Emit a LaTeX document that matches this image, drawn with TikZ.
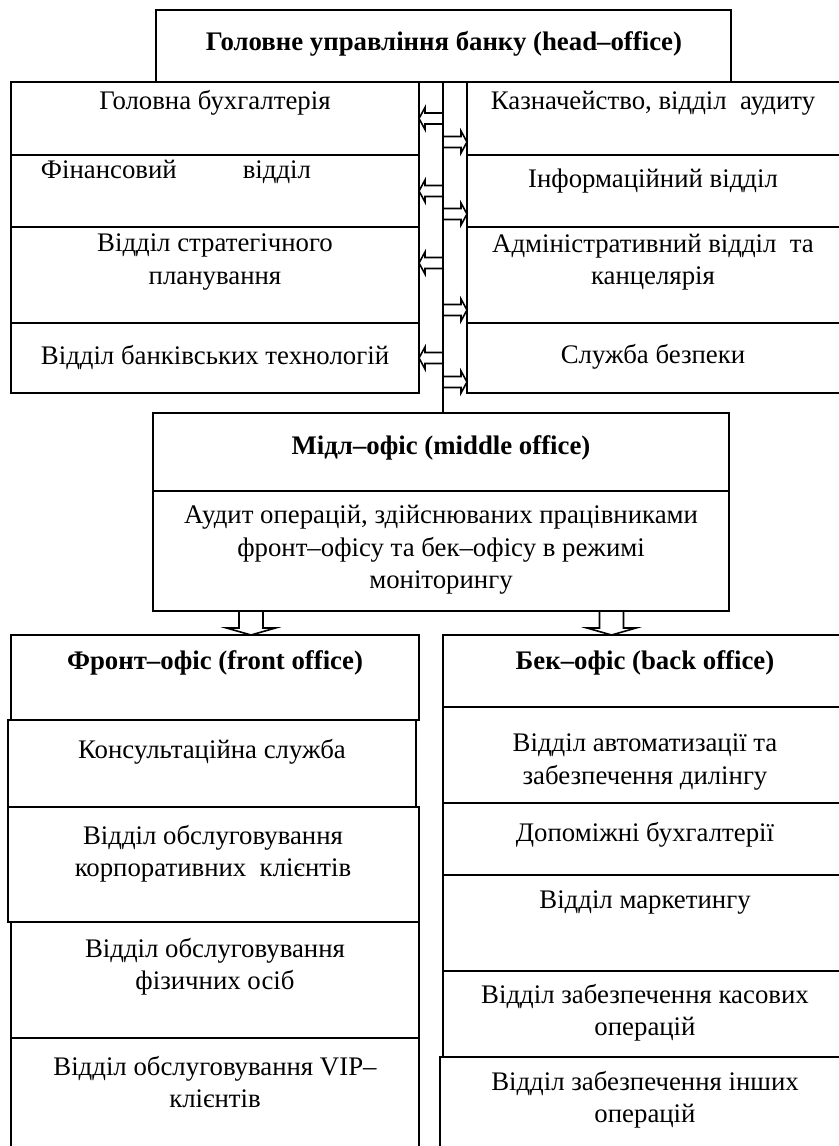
\documentclass[tikz,border=0pt]{standalone}
\usepackage{fontspec}
\setmainfont{Liberation Serif}
\usetikzlibrary{calc,fit}

\tikzset{
  box/.style={draw, line width=0.8pt, inner sep=0pt, outer sep=0pt},
  txt/.style={align=center, inner sep=0pt, font=\fontsize{13.4}{16.2}\selectfont},
  ttl/.style={txt, font=\fontsize{13.4}{16.2}\selectfont\bfseries},
  % block arrow outline: shaft half width / head half width / head length
  blk/.style args={#1/#2/#3}{line width=0.8pt, line join=miter, to path={
    ($(\tikztostart)!#1!90:(\tikztotarget)$)
    -- ($(\tikztotarget)!#3!(\tikztostart)!#1!-90:(\tikztostart)$)
    -- ($(\tikztotarget)!#3!(\tikztostart)!#2!-90:(\tikztostart)$)
    -- (\tikztotarget)
    -- ($(\tikztotarget)!#3!(\tikztostart)!#2!90:(\tikztostart)$)
    -- ($(\tikztotarget)!#3!(\tikztostart)!#1!90:(\tikztostart)$)
    -- ($(\tikztostart)!#1!-90:(\tikztotarget)$)}},
  harr/.style={blk=2.75pt/5.5pt/3pt},
  varr/.style={blk=6pt/12.25pt/3.5pt},
}

\begin{document}
\begin{tikzpicture}[x=0.5pt, y=-0.5pt]
\useasboundingbox (0,0) rectangle (839,1146);
\clip (0,0) rectangle (839,1146);

% head office
\node[box, fit={(156,10) (731,82)}] (head) {};
\node[ttl] (headt) at (444,44) {Головне управління банку (head–office)};

% departments, left
\node[box, fit={(11,82) (419,155)}] (l1) {};
\node[box, fit={(11,155) (419,227)}] (l2) {};
\node[box, fit={(11,227) (419,323)}] (l3) {};
\node[box, fit={(11,323) (419,393)}] (l4) {};
\node[txt] (l1t) at (215,103) {Головна бухгалтерія};
\node[txt] (l2t) at (176,172) {Фінансовий\hspace{33pt}відділ};
\node[txt] (l3t) at (215,262) {Відділ стратегічного\\планування};
\node[txt] (l4t) at (215,357) {Відділ банківських технологій};

% departments, right
\node[box, fit={(467,82) (841,155)}] (r1) {};
\node[box, fit={(467,155) (841,227)}] (r2) {};
\node[box, fit={(467,227) (841,323)}] (r3) {};
\node[box, fit={(467,323) (841,393)}] (r4) {};
\node[txt] (r1t) at (653,103) {Казначейство, відділ\ \ аудиту};
\node[txt] (r2t) at (653,181) {Інформаційний відділ};
\node[txt] (r3t) at (653,262) {Адміністративний відділ\ \ та\\канцелярія};
\node[txt] (r4t) at (653,357) {Служба безпеки};

% middle office
\node[box, fit={(153,413) (729,491)}] (mid) {};
\node[box, fit={(153,491) (729,611)}] (midt) {};
\node[ttl] (midh) at (441,448) {Мідл–офіс (middle office)};
\node[txt] (mida) at (441,550) {Аудит операцій, здійснюваних працівниками\\фронт–офісу та бек–офісу в режимі\\моніторингу};

% front office
\node[box, fit={(11,635) (419,720)}] (f0) {};
\node[box, fit={(8,720) (416,807)}] (f1) {};
\node[box, fit={(8,807) (419,922)}] (f2) {};
\node[box, fit={(11,922) (419,1038)}] (f3) {};
\node[box, fit={(11,1038) (419,1160)}] (f4) {};
\node[ttl] (f0t) at (215,663) {Фронт–офіс (front office)};
\node[txt] (f1t) at (212,752) {Консультаційна служба};
\node[txt] (f2t) at (213,854) {Відділ обслуговування\\корпоративних\ \ клієнтів};
\node[txt] (f3t) at (215,967) {Відділ обслуговування\\фізичних осіб};
\node[txt] (f4t) at (215,1082) {Відділ обслуговування VIP–\\клієнтів};

% back office
\node[box, fit={(443,635) (841,707)}] (b0) {};
\node[box, fit={(443,707) (841,803)}] (b1) {};
\node[box, fit={(443,803) (841,875)}] (b2) {};
\node[box, fit={(443,875) (841,971)}] (b3) {};
\node[box, fit={(443,971) (841,1057)}] (b4) {};
\node[box, fit={(440,1057) (841,1160)}] (b5) {};
\node[ttl] (b0t) at (645,663) {Бек–офіс (back office)};
\node[txt] (b1t) at (645,762) {Відділ автоматизації та\\забезпечення дилінгу};
\node[txt] (b2t) at (645,835) {Допоміжні бухгалтерії};
\node[txt] (b3t) at (645,903) {Відділ маркетингу};
\node[txt] (b4t) at (645,1013) {Відділ забезпечення касових\\операцій};
\node[txt] (b5t) at (645,1100) {Відділ забезпечення інших\\операцій};

% spine and arrows
\draw[line width=0.8pt] (head.south -| 443,0) -- (mid.north -| 443,0);
\coordinate (la1) at (443,118.5);
\coordinate (la2) at (443,191);
\coordinate (la3) at (443,263);
\coordinate (la4) at (443,358);
\coordinate (ra1) at (443,142);
\coordinate (ra2) at (443,214);
\coordinate (ra3) at (443,310);
\coordinate (ra4) at (443,382);
\draw[harr] (la1) to (la1 -| l1.east);
\draw[harr] (la2) to (la2 -| l2.east);
\draw[harr] (la3) to (la3 -| l3.east);
\draw[harr] (la4) to (la4 -| l4.east);
\draw[harr] (ra1) to (ra1 -| r1.west);
\draw[harr] (ra2) to (ra2 -| r2.west);
\draw[harr] (ra3) to (ra3 -| r3.west);
\draw[harr] (ra4) to (ra4 -| r4.west);

\coordinate (fa) at (251,611);
\coordinate (ba) at (611.5,611);
\draw[varr] (fa) to (fa |- f0.north);
\draw[varr] (ba) to (ba |- b0.north);
\end{tikzpicture}
\end{document}
